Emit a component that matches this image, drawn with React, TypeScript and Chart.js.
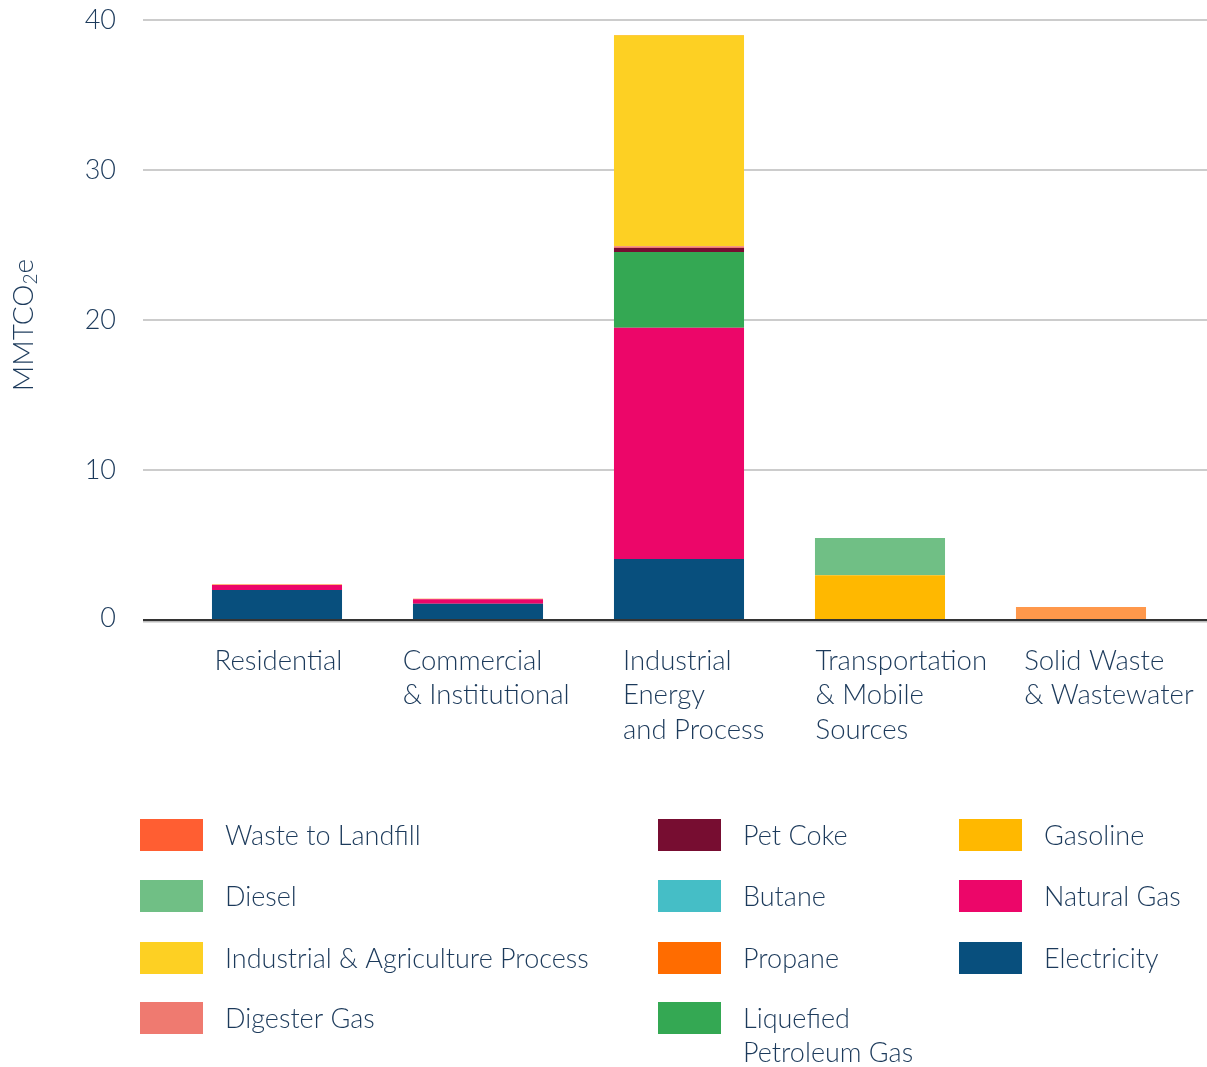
import React, { useEffect, useRef } from "react";
import { Chart, registerables } from "chart.js";

Chart.register(...registerables);

const categories: string[][] = [
  ["Residential"],
  ["Commercial", "& Institutional"],
  ["Industrial", "Energy", "and Process"],
  ["Transportation", "& Mobile", "Sources"],
  ["Solid Waste", "& Wastewater"],
];

const electricity = [2.0, 1.09, 4.07, 0, 0];
const naturalGas = [0.33, 0.29, 15.42, 0, 0];
const lpg = [0, 0, 5.04, 0, 0];
const petCoke = [0, 0, 0.27, 0, 0];
const digesterGas = [0, 0, 0.12, 0, 0];
const industrialProcess = [0, 0, 14.02, 0, 0];
const gasoline = [0, 0, 0.04, 2.98, 0];
const diesel = [0, 0, 0, 2.49, 0];
const propane = [0.04, 0.04, 0, 0, 0];
const butane = [0, 0, 0, 0, 0];
const wasteToLandfill = [0, 0, 0, 0, 0.87];

const yTicks = [0, 10, 20, 30, 40];

const legendColumns: string[][] = [
  ["Waste to Landfill", "Diesel", "Industrial & Agriculture Process", "Digester Gas"],
  ["Pet Coke", "Butane", "Propane", "Liquefied Petroleum Gas"],
  ["Gasoline", "Natural Gas", "Electricity"],
];

const legendColors: Record<string, string> = {
  "Waste to Landfill": "#FF5E32",
  Diesel: "#70BF85",
  "Industrial & Agriculture Process": "#FDD023",
  "Digester Gas": "#EF7A70",
  "Pet Coke": "#770D31",
  Butane: "#45BEC6",
  Propane: "#FF6C00",
  "Liquefied Petroleum Gas": "#34A853",
  Gasoline: "#FFB800",
  "Natural Gas": "#EC0669",
  Electricity: "#084F7D",
};

const legendLines: Record<string, string[]> = {
  "Liquefied Petroleum Gas": ["Liquefied", "Petroleum Gas"],
};

const TEXT = "#1C3A5B";
const FONT = "Lato";

const customPlugin = {
  id: "customDraw",
  beforeDatasetsDraw(chart: any) {
    const ctx = chart.ctx as CanvasRenderingContext2D;
    const y = chart.scales.y;
    const W = chart.width;
    ctx.save();
    ctx.fillStyle = "#CCCCCC";
    yTicks.forEach((v) => {
      if (v === 0) return;
      const py = Math.round(y.getPixelForValue(v));
      ctx.fillRect(143, py - 1, W - 143, 2);
    });
    ctx.fillStyle = TEXT;
    ctx.font = `300 27px ${FONT}`;
    ctx.textAlign = "right";
    ctx.textBaseline = "middle";
    yTicks.forEach((v) => {
      const py = y.getPixelForValue(v);
      ctx.fillText(String(v), 116, v === 0 ? py - 2 : py);
    });
    // axis title with subscript
    ctx.translate(24, 325);
    ctx.rotate(-Math.PI / 2);
    ctx.textBaseline = "middle";
    ctx.textAlign = "left";
    const big = `300 28px ${FONT}`;
    const small = `300 19px ${FONT}`;
    ctx.font = big;
    const wa = ctx.measureText("MMTCO").width;
    const wc = ctx.measureText("e").width;
    ctx.font = small;
    const wb = ctx.measureText("2").width;
    const total = wa + wb + wc;
    let x = -total / 2;
    ctx.font = big;
    ctx.fillText("MMTCO", x, 0);
    x += wa;
    ctx.font = small;
    ctx.fillText("2", x, 7);
    x += wb;
    ctx.font = big;
    ctx.fillText("e", x, 0);
    ctx.restore();
  },
  afterDatasetsDraw(chart: any) {
    const ctx = chart.ctx as CanvasRenderingContext2D;
    const y = chart.scales.y;
    const W = chart.width;
    const zero = Math.round(y.getPixelForValue(0));
    ctx.save();
    ctx.fillStyle = "#BBBBBB";
    ctx.fillRect(143, zero + 1, W - 143, 1.5);
    ctx.fillStyle = "#333333";
    ctx.fillRect(143, zero - 1, W - 143, 2);

    // x labels: left-aligned blocks, centred slightly drifting right
    const meta = chart.getDatasetMeta(0);
    ctx.fillStyle = TEXT;
    ctx.font = `300 27.5px ${FONT}`;
    ctx.textAlign = "left";
    ctx.textBaseline = "middle";
    categories.forEach((lines, i) => {
      const bar = meta.data[i] as any;
      const maxW = Math.max(...lines.map((l) => ctx.measureText(l).width));
      const center = bar.x + 1.5 + i * 6.6;
      const left = center - maxW / 2;
      lines.forEach((ln, j) => {
        ctx.fillText(ln, left, 661 + j * 34.5);
      });
    });

    // legend
    const colX = [140, 658, 959];
    const rowY = [819, 880, 942, 1002];
    ctx.font = `300 27px ${FONT}`;
    legendColumns.forEach((col, ci) => {
      col.forEach((name, ri) => {
        const bx = colX[ci];
        const by = rowY[ri];
        ctx.fillStyle = legendColors[name];
        ctx.fillRect(bx, by, 63, 32);
        ctx.fillStyle = TEXT;
        const lines = legendLines[name] || [name];
        lines.forEach((ln, j) => {
          ctx.fillText(ln, bx + 85, by + 17 + j * 34);
        });
      });
    });
    ctx.restore();
  },
};

export default function App() {
  const ref = useRef<HTMLCanvasElement | null>(null);
  useEffect(() => {
    if (!ref.current) return;
    const mk = (label: string, data: number[], color: string) => ({
      label,
      data,
      backgroundColor: color,
      borderWidth: 0,
      stack: "s",
    });
    const chart = new Chart(ref.current, {
      type: "bar",
      data: {
        labels: categories.map((c) => c.join(" ")),
        datasets: [
          mk("Electricity", electricity, legendColors["Electricity"]),
          mk("Natural Gas", naturalGas, legendColors["Natural Gas"]),
          mk("Liquefied Petroleum Gas", lpg, legendColors["Liquefied Petroleum Gas"]),
          mk("Pet Coke", petCoke, legendColors["Pet Coke"]),
          mk("Digester Gas", digesterGas, legendColors["Digester Gas"]),
          mk("Industrial & Agriculture Process", industrialProcess, legendColors["Industrial & Agriculture Process"]),
          mk("Gasoline", gasoline, legendColors["Gasoline"]),
          mk("Diesel", diesel, legendColors["Diesel"]),
          mk("Propane", propane, legendColors["Propane"]),
          mk("Butane", butane, legendColors["Butane"]),
          mk("Waste to Landfill", wasteToLandfill, "#FF984B"),
        ],
      },
      options: {
        responsive: false,
        animation: false,
        layout: { padding: { left: 176.5, right: 25.5, top: 20, bottom: 447 } },
        datasets: { bar: { barPercentage: 0.647, categoryPercentage: 1 } },
        plugins: { legend: { display: false }, tooltip: { enabled: false } },
        scales: {
          x: { stacked: true, display: false },
          y: { stacked: true, display: false, min: 0, max: 40, ticks: { stepSize: 10 } },
        },
      },
      plugins: [customPlugin],
    });
    return () => chart.destroy();
  }, []);
  return (
    <div style={{ position: "absolute", left: 0, top: 0, width: 1207, height: 1067 }}>
      <canvas ref={ref} width={1207} height={1067} />
    </div>
  );
}
